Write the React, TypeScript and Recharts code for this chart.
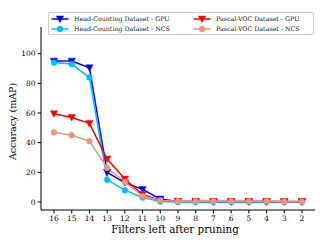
import React from "react";
import { LineChart, Line, XAxis, YAxis, Legend } from "recharts";

const filters = ["16", "15", "14", "13", "12", "11", "10", "9", "8", "7", "6", "5", "4", "3", "2"];
const headGpu = [95, 95, 90.5, 20, 13, 8.5, 2, 0.3, 0, 0, 0, 0, 0, 0, 0];
const headNcs = [94, 93, 84, 15, 8, 3, 0.3, 0, 0, 0, 0, 0, 0, 0, 0];
const pascalGpu = [59.5, 57, 53, 29, 15.5, 5, 1, 0.5, 0.5, 0.5, 0.5, 0.5, 0.5, 0.3, 0.3];
const pascalNcs = [47, 45, 41, 23, 13.5, 4, 1, 0.5, 0.5, 0.5, 0.5, 0.5, 0.5, 0.3, 0.3];
const yTicks = [0, 20, 40, 60, 80, 100];

const data = filters.map((f, i) => ({
  f,
  headGpu: headGpu[i],
  headNcs: headNcs[i],
  pascalGpu: pascalGpu[i],
  pascalNcs: pascalNcs[i],
}));

const series = [
  { key: "headGpu", name: "Head-Counting Dataset - GPU", color: "#0000ff", marker: "tri" },
  { key: "headNcs", name: "Head-Counting Dataset - NCS", color: "#00bfff", marker: "circle" },
  { key: "pascalGpu", name: "Pascal-VOC Dataset - GPU", color: "#ff0000", marker: "tri" },
  { key: "pascalNcs", name: "Pascal-VOC Dataset - NCS", color: "#e9967a", marker: "circle" },
];

const FONT = "'DejaVu Serif', serif";

function Marker({ cx, cy, color, marker }: any) {
  if (cx == null || cy == null) return null;
  if (marker === "tri") {
    const s = 3.7;
    return <path d={`M${cx - s},${cy - s * 0.8} L${cx + s},${cy - s * 0.8} L${cx},${cy + s * 0.95} Z`} fill={color} stroke={color} strokeWidth={0.5} />;
  }
  return <circle cx={cx} cy={cy} r={2.9} fill={color} stroke={color} strokeWidth={0.5} />;
}

function LegendContent() {
  const entry = (s: (typeof series)[number], left: number, top: number) => (
    <div key={s.key} style={{ position: "absolute", left, top, display: "flex", alignItems: "center", height: 10 }}>
      <svg width={18} height={10} style={{ marginRight: 5, display: "block" }}>
        <line x1={0.5} y1={5} x2={17.5} y2={5} stroke={s.color} strokeWidth={1.5} />
        <Marker cx={9} cy={5} color={s.color} marker={s.marker} />
      </svg>
      <span style={{ fontFamily: FONT, fontSize: 6.3, color: "#222", whiteSpace: "nowrap", lineHeight: "10px" }}>{s.name}</span>
    </div>
  );
  return (
    <div
      style={{
        position: "relative",
        border: "1px solid #cccccc",
        borderRadius: 2,
        background: "rgba(255,255,255,0.8)",
        width: 264,
        height: 21,
      }}
    >
      {entry(series[0], 2, 0.5)}
      {entry(series[1], 2, 10.5)}
      {entry(series[2], 144, 0.5)}
      {entry(series[3], 144, 10.5)}
    </div>
  );
}

const XLabel = ({ viewBox }: any) => (
  <text x={viewBox.x + viewBox.width / 2 - 3} y={viewBox.y + 23} textAnchor="middle" fontFamily={FONT} fontSize={10.3} fill="#000">
    Filters left after pruning
  </text>
);

const YLabel = ({ viewBox }: any) => {
  const cx = 12;
  const cy = viewBox.y + viewBox.height / 2 + 3;
  return (
    <text x={cx} y={cy} transform={`rotate(-90, ${cx}, ${cy})`} textAnchor="middle" dominantBaseline="central" fontFamily={FONT} fontSize={9.5} fill="#000">
      Accuracy (mAP)
    </text>
  );
};

export default function App() {
  return (
    <div>
      <style>{`body{margin:0}`}</style>
      <LineChart width={324} height={243} data={data} margin={{ top: 4, right: 9, left: 0, bottom: 0 }}>
        <XAxis
          dataKey="f"
          padding={{ left: 13, right: 13 }}
          height={33}
          tickLine={{ stroke: "#000" }}
          tickSize={3.5}
          axisLine={{ stroke: "#000" }}
          tick={{ fontFamily: FONT, fontSize: 7.5, fill: "#000" }}
          interval={0}
          label={{ content: XLabel }}
        />
        <XAxis xAxisId="top" orientation="top" dataKey="f" height={0} tick={false} tickLine={false} axisLine={{ stroke: "#000" }} />
        <YAxis
          domain={[-5.4, 118]}
          ticks={yTicks}
          width={41}
          tickSize={3.5}
          tickLine={{ stroke: "#000" }}
          axisLine={{ stroke: "#000" }}
          tick={{ fontFamily: FONT, fontSize: 7.5, fill: "#000" }}
          label={{ content: YLabel }}
        />
        <YAxis yAxisId="right" orientation="right" domain={[-5.4, 118]} width={0} tick={false} tickLine={false} axisLine={{ stroke: "#000" }} />
        <Legend
          verticalAlign="top"
          align="left"
          content={<LegendContent />}
          wrapperStyle={{ position: "absolute", top: 12, left: 48, width: 266 }}
        />
        {series.map((s) => (
          <Line
            key={s.key}
            dataKey={s.key}
            name={s.name}
            stroke={s.color}
            strokeWidth={1.5}
            isAnimationActive={false}
            dot={(p: any) => <Marker key={`${s.key}-${p.index}`} cx={p.cx} cy={p.cy} color={s.color} marker={s.marker} />}
            activeDot={false}
          />
        ))}
      </LineChart>
    </div>
  );
}
